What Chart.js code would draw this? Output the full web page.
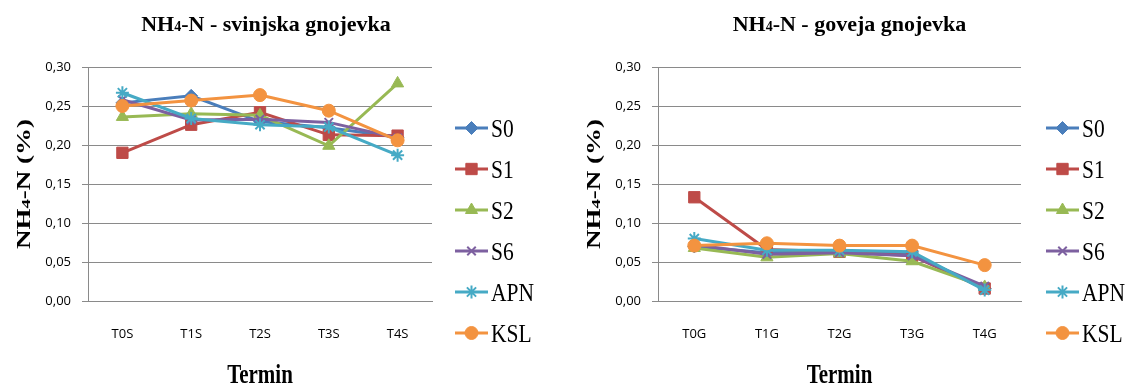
<!DOCTYPE html>
<html>
<head>
<meta charset="utf-8">
<title>NH4-N</title>
<script src="https://cdn.jsdelivr.net/npm/chart.js"></script>
<style>
  html, body { margin: 0; padding: 0; background: #ffffff; }
  #wrap { position: relative; width: 1133px; height: 385px; overflow: hidden; }
  canvas { position: absolute; top: 0; }
  #pig { left: 0; }
  #cow { left: 566px; }
</style>
</head>
<body>
<div id="wrap">
  <canvas id="pig" width="566" height="385"></canvas>
  <canvas id="cow" width="567" height="385"></canvas>
</div>
<script>
// Sampling terms
const pigTerms = ['T0S', 'T1S', 'T2S', 'T3S', 'T4S'];
const cowTerms = ['T0G', 'T1G', 'T2G', 'T3G', 'T4G'];

// Treatments
const seriesNames = ['S0', 'S1', 'S2', 'S6', 'APN', 'KSL'];

// NH4-N (%) in pig slurry
const pigS0  = [0.254, 0.263, 0.230, 0.222, 0.210];
const pigS1  = [0.190, 0.226, 0.242, 0.213, 0.212];
const pigS2  = [0.236, 0.240, 0.238, 0.199, 0.279];
const pigS6  = [0.258, 0.232, 0.233, 0.229, 0.209];
const pigAPN = [0.267, 0.234, 0.226, 0.223, 0.187];
const pigKSL = [0.250, 0.257, 0.264, 0.244, 0.206];

// NH4-N (%) in cattle slurry
const cowS0  = [0.070, 0.062, 0.064, 0.060, 0.016];
const cowS1  = [0.133, 0.066, 0.063, 0.058, 0.016];
const cowS2  = [0.068, 0.056, 0.061, 0.051, 0.018];
const cowS6  = [0.072, 0.060, 0.062, 0.058, 0.019];
const cowAPN = [0.080, 0.065, 0.065, 0.063, 0.014];
const cowKSL = [0.071, 0.074, 0.071, 0.071, 0.046];

// Value axis labels (decimal comma)
const yTickLabels = ['0,00', '0,05', '0,10', '0,15', '0,20', '0,25', '0,30'];

const colors = ['#4A7EBB', '#BE4B48', '#98B954', '#7D60A0', '#46AAC5', '#F39340'];
const markers = [
  { style: 'rectRot',  r: 6.5, bw: 1 },
  { style: 'rect',     r: 8,   bw: 1 },
  { style: 'triangle', r: 7,   bw: 1 },
  { style: 'crossRot', r: 6,   bw: 2 },
  { style: 'star',     r: 6.5, bw: 2 },
  { style: 'circle',   r: 6.5, bw: 1 }
];

const GRID = '#8a8a8a';
const SERIF = '"Liberation Serif", "Times New Roman", serif';
const SANS = '"Open Sans", sans-serif';

// Draws text made of runs of different sizes, centred on cx
function richWidth(ctx, parts, weight) {
  let w = 0;
  for (const p of parts) {
    ctx.font = weight + ' ' + p.s + 'px ' + SERIF;
    w += ctx.measureText(p.t).width;
  }
  return w;
}
function drawRich(ctx, parts, cx, baseline, weight, sx, sy) {
  ctx.save();
  ctx.translate(cx, baseline);
  ctx.scale(sx, sy);
  const w = richWidth(ctx, parts, weight);
  let x = -w / 2;
  ctx.textBaseline = 'alphabetic';
  ctx.textAlign = 'left';
  ctx.fillStyle = '#000';
  for (const p of parts) {
    ctx.font = weight + ' ' + p.s + 'px ' + SERIF;
    ctx.fillText(p.t, x, 0);
    x += ctx.measureText(p.t).width;
  }
  ctx.restore();
}

// Chart decorations: title, axis titles and the line-and-marker legend
const decor = {
  id: 'decor',
  afterDraw(chart, args, opts) {
    const ctx = chart.ctx;
    const area = chart.chartArea;

    // Chart title
    drawRich(ctx, [{ t: 'NH', s: 22 }, { t: '4', s: 14 }, { t: '-N - ' + opts.title, s: 22 }],
      opts.titleX, 31, 'bold', 1, 1);

    // Category axis title
    drawRich(ctx, [{ t: 'Termin', s: 21 }], (area.left + area.right) / 2, 383, 'bold', 1, 1.3);

    // Value axis title, rotated and stretched along its length
    ctx.save();
    ctx.translate(opts.yTitleX, 184);
    ctx.rotate(-Math.PI / 2);
    const yParts = [{ t: 'NH', s: 19 }, { t: '4', s: 13 }, { t: '-N (%)', s: 19 }];
    const natural = richWidth(ctx, yParts, 'bold');
    drawRich(ctx, yParts, 0, 6.5, 'bold', 130 / natural, 1);
    ctx.restore();

    // Legend
    const datasets = chart.data.datasets;
    for (let i = 0; i < datasets.length; i++) {
      const ds = datasets[i];
      const y = 128 + i * 41;
      ctx.save();
      ctx.strokeStyle = ds.borderColor;
      ctx.lineWidth = 3;
      ctx.beginPath();
      ctx.moveTo(opts.legendX, y);
      ctx.lineTo(opts.legendX + 33, y);
      ctx.stroke();
      ctx.fillStyle = ds.pointBackgroundColor;
      ctx.strokeStyle = ds.pointBorderColor;
      ctx.lineWidth = ds.pointBorderWidth;
      Chart.helpers.drawPoint(ctx, {
        pointStyle: ds.pointStyle,
        radius: ds.pointRadius,
        rotation: 0,
        borderWidth: ds.pointBorderWidth
      }, opts.legendX + 16.5, y);
      ctx.restore();

      ctx.save();
      ctx.translate(opts.legendX + 36, y + 0.338 * 21.5 * 1.22);
      ctx.scale(1, 1.22);
      ctx.font = '21.5px ' + SERIF;
      ctx.fillStyle = '#000';
      ctx.textAlign = 'left';
      ctx.textBaseline = 'alphabetic';
      ctx.fillText(ds.label, 0, 0);
      ctx.restore();
    }
  }
};

function buildDatasets(values) {
  return values.map((vals, i) => ({
    label: seriesNames[i],
    data: vals,
    borderColor: colors[i],
    backgroundColor: colors[i],
    borderWidth: 3,
    pointStyle: markers[i].style,
    pointRadius: markers[i].r,
    pointBackgroundColor: colors[i],
    pointBorderColor: colors[i],
    pointBorderWidth: markers[i].bw,
    tension: 0,
    fill: false,
    order: values.length - i
  }));
}

function makeChart(canvasId, cats, values, cfg) {
  return new Chart(document.getElementById(canvasId), {
    type: 'line',
    data: { labels: cats, datasets: buildDatasets(values) },
    options: {
      responsive: false,
      animation: false,
      events: [],
      layout: { padding: { left: 0, top: 67, right: cfg.padRight, bottom: 0 } },
      plugins: {
        legend: { display: false },
        title: { display: false },
        tooltip: { enabled: false },
        decor: cfg
      },
      scales: {
        x: {
          offset: true,
          grid: { display: false, drawTicks: false },
          border: { display: true, color: GRID, width: 1 },
          ticks: { padding: 25, color: '#000', font: { family: SANS, size: 13 } },
          afterFit(scale) { scale.height = 84; }
        },
        y: {
          min: 0,
          max: 0.3,
          ticks: {
            stepSize: 0.05,
            padding: 11,
            color: '#000',
            font: { family: SANS, size: 13 },
            callback: (v, i) => yTickLabels[i]
          },
          grid: { color: GRID, lineWidth: 1, tickLength: 6 },
          border: { display: true, color: GRID, width: 1 },
          afterFit(scale) { scale.width = cfg.axisLeft; }
        }
      }
    },
    plugins: [decor]
  });
}

makeChart('pig', pigTerms, [pigS0, pigS1, pigS2, pigS6, pigAPN, pigKSL], {
  title: 'svinjska gnojevka', titleX: 266, yTitleX: 23, legendX: 455,
  axisLeft: 88, padRight: 134
});

makeChart('cow', cowTerms, [cowS0, cowS1, cowS2, cowS6, cowAPN, cowKSL], {
  title: 'goveja gnojevka', titleX: 283.5, yTitleX: 27, legendX: 480,
  axisLeft: 92, padRight: 112
});
</script>
</body>
</html>
